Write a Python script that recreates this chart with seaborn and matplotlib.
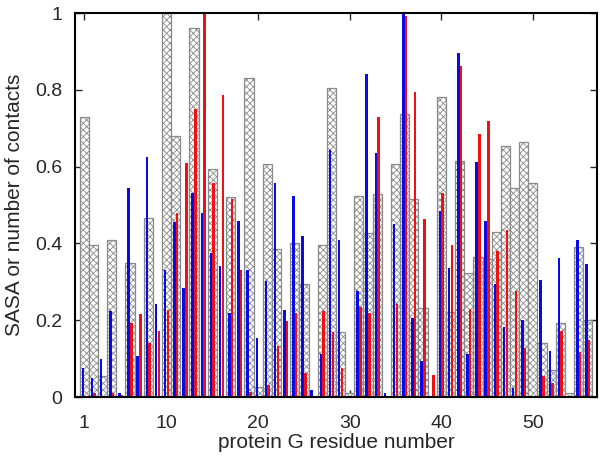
import numpy as np
import pandas as pd
import matplotlib
matplotlib.use("Agg")
import matplotlib.pyplot as plt
import seaborn as sns

# residue numbers of protein G
residues = list(range(1, 57))

# relative SASA (gray hatched bars)
sasa = [0.73, 0.395, 0.055, 0.41, 0.0, 0.35, 0.0, 0.465, 0.0, 1.0,
        0.68, 0.0, 0.96, 0.0, 0.593, 0.0, 0.52, 0.0, 0.831, 0.027,
        0.608, 0.385, 0.0, 0.401, 0.293, 0.0, 0.396, 0.804, 0.168, 0.01,
        0.524, 0.428, 0.529, 0.0, 0.606, 0.736, 0.516, 0.233, 0.0, 0.78,
        0.222, 0.615, 0.322, 0.365, 0.359, 0.429, 0.654, 0.543, 0.663, 0.558,
        0.141, 0.07, 0.192, 0.01, 0.39, 0.2]

# number of contacts, first set (blue)
contacts_blue = [0.075, 0.049, 0.1, 0.225, 0.01, 0.543, 0.107, 0.626, 0.242, 0.331,
                 0.455, 0.283, 0.53, 0.48, 0.374, 0.342, 0.218, 0.459, 0.332, 0.153,
                 0.302, 0.558, 0.227, 0.523, 0.419, 0.018, 0.111, 0.643, 0.41, 0.0,
                 0.277, 0.841, 0.636, 0.01, 0.45, 1.0, 0.207, 0.094, 0.0, 0.484,
                 0.337, 0.895, 0.111, 0.613, 0.459, 0.293, 0.183, 0.023, 0.2, 0.0,
                 0.305, 0.121, 0.363, 0.0, 0.409, 0.346]

# number of contacts, second set (red)
contacts_red = [0.0, 0.01, 0.0, 0.01, 0.005, 0.193, 0.215, 0.14, 0.173, 0.227,
                0.478, 0.61, 0.749, 1.0, 0.558, 0.787, 0.516, 0.331, 0.014, 0.0,
                0.031, 0.134, 0.198, 0.22, 0.062, 0.0, 0.225, 0.168, 0.075, 0.0,
                0.235, 0.22, 0.728, 0.0, 0.242, 0.992, 0.795, 0.464, 0.056, 0.532,
                0.396, 0.862, 0.229, 0.684, 0.72, 0.381, 0.435, 0.277, 0.127, 0.0,
                0.055, 0.036, 0.172, 0.0, 0.118, 0.148]

xtick_pos = [1, 10, 20, 30, 40, 50]
ytick_pos = [0, 0.2, 0.4, 0.6, 0.8, 1.0]
ytick_labels = ["0", "0.2", "0.4", "0.6", "0.8", "1"]


def main():
    sns.set_style("ticks")
    plt.rcParams["font.family"] = ["Liberation Sans", "DejaVu Sans"]
    plt.rcParams["hatch.color"] = "#8a8a8a"
    plt.rcParams["hatch.linewidth"] = 0.6

    df = pd.DataFrame({"res": residues, "sasa": sasa,
                       "blue": contacts_blue, "red": contacts_red})
    df["res_blue"] = df["res"] - 0.15
    df["res_red"] = df["res"] + 0.15

    fig = plt.figure(figsize=(6.02, 4.57), dpi=100)
    ax = fig.add_axes([75 / 602, 1 - 397 / 457, 522 / 602, 384 / 457])

    sns.barplot(data=df, x="res", y="sasa", native_scale=True, width=1.0,
                color="white", edgecolor="#8a8a8a", hatch="xxxxx",
                linewidth=0.9, errorbar=None, ax=ax)
    sns.barplot(data=df, x="res_blue", y="blue", native_scale=True, width=0.28,
                color="#0a0ae6", saturation=1, linewidth=0, errorbar=None, ax=ax)
    sns.barplot(data=df, x="res_red", y="red", native_scale=True, width=0.28,
                color="#ee1111", saturation=1, linewidth=0, errorbar=None, ax=ax)

    ax.set_xlim(0, 57)
    ax.set_ylim(0, 1)
    ax.set_xticks(xtick_pos)
    ax.set_xticklabels([str(v) for v in xtick_pos])
    ax.set_yticks(ytick_pos)
    ax.set_yticklabels(ytick_labels)
    ax.tick_params(direction="in", length=5, width=1, labelsize=14,
                   top=True, right=True)
    ax.tick_params(axis="x", pad=13)
    ax.tick_params(axis="y", pad=9)
    for s in ax.spines.values():
        s.set_linewidth(1.5)
        s.set_color("black")

    ax.set_xlabel("protein G residue number", fontsize=15, labelpad=1)
    ax.set_ylabel("SASA or number of contacts", fontsize=15, labelpad=8)

    fig.savefig("out.png", dpi=100)
    plt.close(fig)


if __name__ == "__main__":
    main()
